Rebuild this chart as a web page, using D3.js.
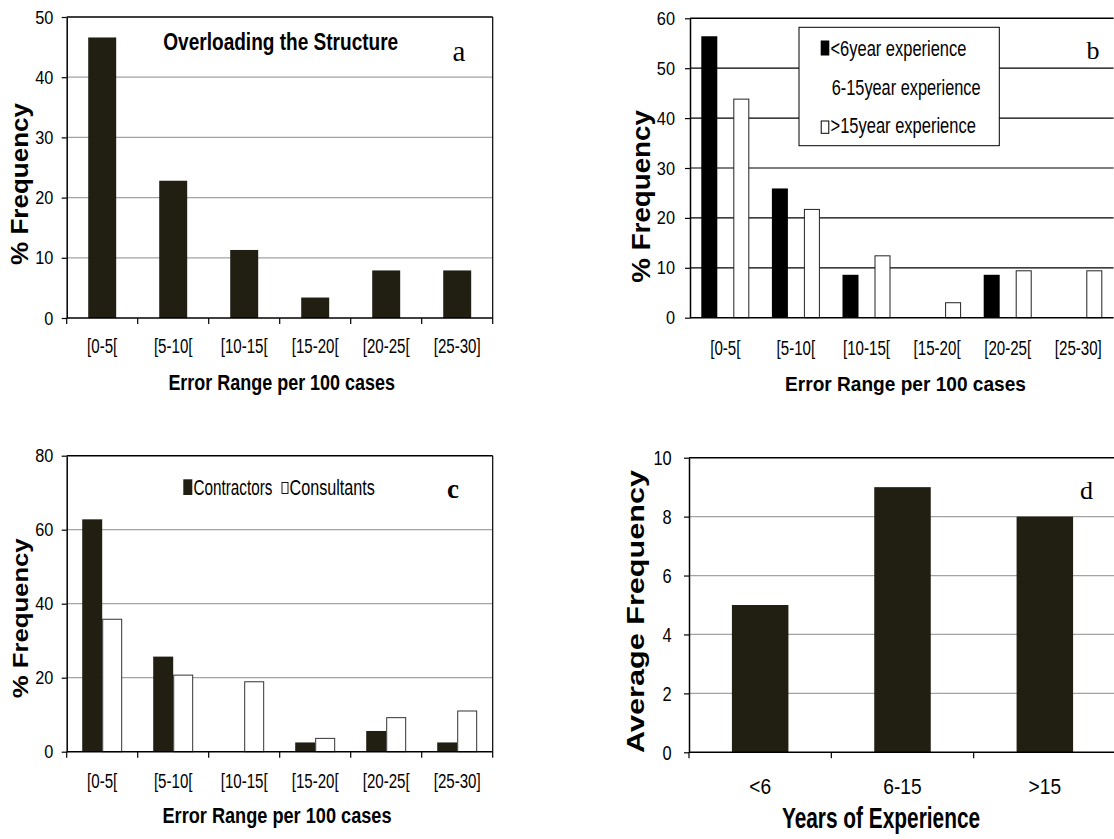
<!DOCTYPE html>
<html>
<head>
<meta charset="utf-8">
<script src="https://cdn.jsdelivr.net/npm/d3@7"></script>
<style>
  body { margin: 0; background: #fff; }
  svg { display: block; }
  text { font-family: "Liberation Sans", Arial, sans-serif; fill: #000; }
  .serif { font-family: "Liberation Serif", "Times New Roman", serif; }
</style>
</head>
<body>
<svg id="canvas" width="1114" height="839"></svg>
<script>
// data
let ranges = ['[0-5[', '[5-10[', '[10-15[', '[15-20[', '[20-25[', '[25-30]']
let overloading = [46.6, 22.8, 11.3, 3.4, 7.9, 7.9]
let underSix = [56.4, 25.9, 8.6, 0, 8.6, 0]
let overFifteen = [43.8, 21.7, 12.4, 3.0, 9.4, 9.4]
let contractors = [62.8, 25.7, 0, 2.5, 5.6, 2.5]
let consultants = [35.8, 20.7, 18.9, 3.6, 9.2, 11.0]
let expGroups = ['<6', '6-15', '>15']
let avgFrequency = [5, 9, 8]
let bLegend = ['<6year experience', '6-15year experience', '>15year experience']
let cLegend = ['Contractors', 'Consultants']

let canvas = d3.select('#canvas')
let dark = '#211e12'

// text squeezed/stretched along its baseline to a measured length
let addText = (str, x, y, size, len, opts = {}) => {
  let t = canvas.append('text').text(str)
    .attr('text-anchor', opts.anchor || 'start')
    .style('font-size', size + 'px')
  if (opts.bold) t.style('font-weight', 'bold')
  if (opts.serif) t.attr('class', 'serif')
  let s = len ? len / t.node().getComputedTextLength() : 1
  t.attr('transform', 'translate(' + x + ',' + y + ') scale(' + s + ',1)')
  return t
}

let addVText = (str, cx, cy, size, len) => {
  let t = canvas.append('text').text(str)
    .attr('text-anchor', 'middle')
    .style('font-size', size + 'px')
    .style('font-weight', 'bold')
  let s = len / t.node().getComputedTextLength()
  t.attr('transform', 'translate(' + cx + ',' + cy + ') rotate(-90) scale(' + s + ',1)')
}

let drawPanel = (p) => {
  let x = d3.scaleBand().domain(p.cats).range([p.x0, p.x1])
  let y = d3.scaleLinear().domain([0, p.max]).range([p.base, p.top])
  let ticks = d3.range(0, p.max + p.step / 2, p.step)
  let g = canvas.append('g')

  g.selectAll('.grid').data(ticks.slice(1)).join('line')
    .attr('x1', p.x0).attr('x2', p.x1)
    .attr('y1', d => y(d)).attr('y2', d => y(d))
    .attr('stroke', d => d === p.max ? '#000' : p.grid)
    .attr('stroke-width', d => d === p.max ? 1.5 : 1.2)

  if (p.right) {
    g.append('line').attr('x1', p.x1).attr('x2', p.x1)
      .attr('y1', y(p.max)).attr('y2', y(0))
      .attr('stroke', '#000').attr('stroke-width', 1.2)
  }

  let bars = canvas.append('g')

  let axisG = canvas.append('g')
  axisG.append('line')
    .attr('x1', p.x0).attr('x2', p.x1).attr('y1', y(0)).attr('y2', y(0))
    .attr('stroke', '#000').attr('stroke-width', 1.5)

  let yAxis = d3.axisLeft(y).tickValues(ticks).tickSize(5).tickSizeOuter(0)
  let ya = axisG.append('g')
    .attr('transform', 'translate(' + p.x0 + ',0)')
    .call(yAxis)
  ya.select('.domain').attr('stroke', '#000').attr('stroke-width', 1.5)
  ya.selectAll('.tick line').attr('stroke', '#000').attr('stroke-width', 1.2)
  ya.selectAll('.tick text')
    .attr('font-family', null).attr('font-size', null)
    .style('font-size', p.ySize + 'px')
    .attr('fill', '#000')
    .attr('x', -p.yGap / p.ySc)
    .attr('transform', 'scale(' + p.ySc + ',1)')

  if (p.edgeTicks) {
    let edges = p.cats.map(c => x(c)).concat([p.x1])
    axisG.selectAll('.edge').data(edges).join('line')
      .attr('x1', d => d).attr('x2', d => d)
      .attr('y1', y(0)).attr('y2', y(0) + 6)
      .attr('stroke', '#000').attr('stroke-width', 1.2)
  }

  axisG.selectAll('.xl').data(p.cats).join('text')
    .text(d => d)
    .attr('text-anchor', 'middle')
    .attr('transform', d => 'translate(' + (x(d) + x.bandwidth() / 2) + ',' + (y(0) + p.xLab) + ') scale(' + p.xSc + ',1)')
    .style('font-size', p.xSize + 'px')

  return { x, y, bars }
}

// panel a
let pa = drawPanel({ cats: ranges, x0: 66.7, x1: 492.7, top: 17, base: 318, max: 50, step: 10,
  grid: '#a3a3a3', right: true, edgeTicks: true, ySize: 19, ySc: 0.86, yGap: 13.4,
  xSize: 21, xSc: 0.72, xLab: 34.7 })
let xa = pa.x.copy().paddingInner(0.606).paddingOuter(0.303)
pa.bars.selectAll('rect').data(overloading).join('rect')
  .attr('x', (d, i) => xa(ranges[i]))
  .attr('width', xa.bandwidth())
  .attr('y', d => pa.y(d))
  .attr('height', d => pa.y(0) - pa.y(d))
  .attr('fill', dark)
addText('Overloading the Structure', 163.3, 50, 23, 235, { bold: true })
addText('a', 452.5, 61, 29, null, { serif: true })
addText('Error Range per 100 cases', 281.7, 390, 22, 226.7, { bold: true, anchor: 'middle' })
addVText('% Frequency', 28.3, 184, 24, 162)

// panel b
let pb = drawPanel({ cats: ranges, x0: 690, x1: 1113.6, top: 18.3, base: 317.7, max: 60, step: 10,
  grid: '#000', right: false, edgeTicks: false, ySize: 19, ySc: 0.86, yGap: 15,
  xSize: 21, xSc: 0.72, xLab: 37.3 })
let xb = pb.x.copy().paddingInner(0.32).paddingOuter(0.16)
let xbInner = d3.scaleBand().domain(['under', 'mid', 'over']).range([0, xb.bandwidth()])
pb.bars.selectAll('.under').data(underSix).join('rect')
  .attr('x', (d, i) => xb(ranges[i]) + xbInner('under'))
  .attr('width', xbInner.bandwidth())
  .attr('y', d => pb.y(d))
  .attr('height', d => pb.y(0) - pb.y(d))
  .attr('fill', '#000')
pb.bars.selectAll('.over').data(overFifteen).join('rect')
  .attr('x', (d, i) => xb(ranges[i]) + xbInner('over') + 0.5)
  .attr('width', xbInner.bandwidth() - 1)
  .attr('y', d => pb.y(d))
  .attr('height', d => pb.y(0) - pb.y(d))
  .attr('fill', '#fff').attr('stroke', '#222').attr('stroke-width', 1)

canvas.append('rect').attr('x', 799).attr('y', 27.3).attr('width', 200.3).attr('height', 118.4)
  .attr('fill', '#fff').attr('stroke', '#000').attr('stroke-width', 1)
canvas.append('rect').attr('x', 820.7).attr('y', 40.5).attr('width', 8.6).attr('height', 15).attr('fill', '#000')
canvas.append('rect').attr('x', 821.2).attr('y', 121).attr('width', 7.6).attr('height', 12.3)
  .attr('fill', '#fff').attr('stroke', '#000').attr('stroke-width', 1)
addText(bLegend[0], 830.5, 56, 22, 136)
addText(bLegend[1], 831.7, 95, 22, 149)
addText(bLegend[2], 830.5, 133.3, 22, 145.5)
addText('b', 1086.5, 59.3, 26, null, { serif: true })
addText('Error Range per 100 cases', 905.5, 390.7, 21, 241, { bold: true, anchor: 'middle' })
addVText('% Frequency', 650, 196.4, 25, 172.7)

// panel c
let pc = drawPanel({ cats: ranges, x0: 66.7, x1: 492.7, top: 455.7, base: 751.7, max: 80, step: 20,
  grid: '#a3a3a3', right: true, edgeTicks: true, ySize: 19, ySc: 0.86, yGap: 13.4,
  xSize: 21, xSc: 0.72, xLab: 36.3 })
let xc = pc.x.copy().paddingInner(0.437).paddingOuter(0.2185)
let xcInner = d3.scaleBand().domain(['contr', 'cons']).range([0, xc.bandwidth()])
pc.bars.selectAll('.contr').data(contractors).join('rect')
  .attr('x', (d, i) => xc(ranges[i]) + xcInner('contr'))
  .attr('width', xcInner.bandwidth())
  .attr('y', d => pc.y(d))
  .attr('height', d => pc.y(0) - pc.y(d))
  .attr('fill', dark)
pc.bars.selectAll('.cons').data(consultants).join('rect')
  .attr('x', (d, i) => xc(ranges[i]) + xcInner('cons') + 0.5)
  .attr('width', xcInner.bandwidth() - 1)
  .attr('y', d => pc.y(d))
  .attr('height', d => pc.y(0) - pc.y(d))
  .attr('fill', '#fff').attr('stroke', '#333').attr('stroke-width', 1)

canvas.append('rect').attr('x', 183.3).attr('y', 479.3).attr('width', 9).attr('height', 15.7).attr('fill', dark)
canvas.append('rect').attr('x', 282).attr('y', 482.5).attr('width', 6).attr('height', 11)
  .attr('fill', '#fff').attr('stroke', '#000').attr('stroke-width', 0.9)
addText(cLegend[0], 193.5, 495, 22, 79)
addText(cLegend[1], 289.5, 495, 22, 85.5)
addText('c', 447, 498.3, 27, null, { serif: true, bold: true })
addText('Error Range per 100 cases', 277, 823.3, 22, 229.3, { bold: true, anchor: 'middle' })
addVText('% Frequency', 28.3, 618.3, 22, 160)

// panel d
let pd = drawPanel({ cats: expGroups, x0: 689, x1: 1116, top: 457.7, base: 752.3, max: 10, step: 2,
  grid: '#a3a3a3', right: false, edgeTicks: true, ySize: 21, ySc: 0.78, yGap: 17.3,
  xSize: 22, xSc: 0.87, xLab: 41.7 })
let xd = pd.x.copy().paddingInner(0.603).paddingOuter(0.3015)
pd.bars.selectAll('rect').data(avgFrequency).join('rect')
  .attr('x', (d, i) => xd(expGroups[i]))
  .attr('width', xd.bandwidth())
  .attr('y', d => pd.y(d))
  .attr('height', d => pd.y(0) - pd.y(d))
  .attr('fill', dark)
addText('d', 1080, 499.3, 26, null, { serif: true })
addText('Years of Experience', 881, 828, 29, 198.3, { bold: true, anchor: 'middle' })
addVText('Average Frequency', 644, 611.5, 24, 283)
</script>
</body>
</html>
